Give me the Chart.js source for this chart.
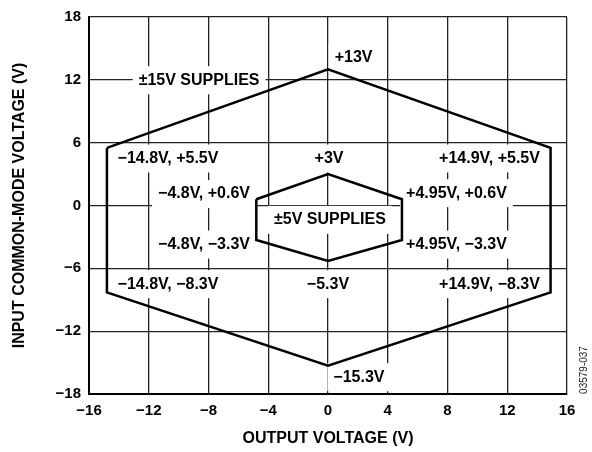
<!DOCTYPE html>
<html>
<head>
<meta charset="utf-8">
<script src="https://cdn.jsdelivr.net/npm/chart.js@4/dist/chart.umd.min.js"></script>
<style>
  html, body { margin: 0; padding: 0; background: #fff; }
  #wrap { width: 592px; height: 452px; }
</style>
</head>
<body>
<div id="wrap"><canvas id="chart"></canvas></div>
<script>
// ±15V supplies boundary (output V, common-mode V)
const wideX = [-14.8, 0, 14.9, 14.9, 0, -14.8, -14.8];
const wideY = [5.5, 13, 5.5, -8.3, -15.3, -8.3, 5.5];

// ±5V supplies boundary
const narrowX = [-4.8, 0, 4.95, 4.95, 0, -4.8, -4.8];
const narrowY = [0.6, 3, 0.6, -3.3, -5.3, -3.3, 0.6];

const xTicks = [-16, -12, -8, -4, 0, 4, 8, 12, 16];
const yTicks = [-18, -12, -6, 0, 6, 12, 18];

// callout texts and where they sit (data units)
const noteText = ["+13V", "±15V SUPPLIES", "−14.8V, +5.5V", "−4.8V, +0.6V", "+3V",
  "+14.9V, +5.5V", "+4.95V, +0.6V", "±5V SUPPLIES", "−4.8V, −3.3V", "+4.95V, −3.3V",
  "−14.8V, −8.3V", "−5.3V", "+14.9V, −8.3V", "−15.3V"];
const noteX = [1.71, -8.63, -10.71, -8.30, 0.07, 10.81, 8.60, 0.13, -8.30, 8.60, -10.71, 0, 10.81, 2.07];
const noteY = [14.13, 11.96, 4.49, 1.09, 4.49, 4.49, 1.18, -1.37, -3.73, -3.73, -7.51, -7.51, -7.51, -16.40];

const FONT = "'Liberation Sans', Arial, Helvetica, sans-serif";

function pts(xs, ys) {
    return xs.map((x, i) => ({ x: x, y: ys[i] }));
}
function minus(v) {
    return String(v).replace("-", "\u2212");
}

const notesPlugin = {
    id: "notes",
    beforeDatasetsDraw(chart) {
        const ctx = chart.ctx;
        const xs = chart.scales.x, ys = chart.scales.y;
        ctx.save();
        ctx.font = "bold 16px " + FONT;
        ctx.textAlign = "center";
        ctx.textBaseline = "middle";
        noteText.forEach((t, i) => {
            const px = xs.getPixelForValue(noteX[i]);
            const py = ys.getPixelForValue(noteY[i]);
            const w = ctx.measureText(t).width + 12;
            const h = 28;
            ctx.fillStyle = "#fff";
            ctx.fillRect(px - w / 2, py - h / 2, w, h);
            ctx.fillStyle = "#000";
            ctx.fillText(t, px, py);
        });
        ctx.restore();
    },
    afterDraw(chart) {
        const ctx = chart.ctx;
        ctx.save();
        ctx.translate(584, 370);
        ctx.rotate(-Math.PI / 2);
        ctx.font = "10px " + FONT;
        ctx.fillStyle = "#222";
        ctx.textAlign = "center";
        ctx.textBaseline = "middle";
        ctx.fillText("03579-037", 0, 0);
        ctx.restore();
    }
};

const lineStyle = {
    showLine: true,
    borderColor: "#000",
    borderWidth: 2.5,
    pointRadius: 0,
    fill: false,
    tension: 0
};

new Chart(document.getElementById("chart"), {
    type: "scatter",
    data: {
        datasets: [
            Object.assign({ label: "±15V", data: pts(wideX, wideY) }, lineStyle),
            Object.assign({ label: "±5V", data: pts(narrowX, narrowY) }, lineStyle)
        ]
    },
    options: {
        responsive: true,
        maintainAspectRatio: false,
        animation: false,
        layout: {
            padding: { left: 0, right: 25, top: 13, bottom: 0 }
        },
        plugins: {
            legend: { display: false },
            tooltip: { enabled: false }
        },
        scales: {
            x: {
                type: "linear",
                min: -16,
                max: 16,
                afterBuildTicks: s => { s.ticks = xTicks.map(v => ({ value: v })); },
                afterFit: s => { s.height = 58; },
                ticks: {
                    color: "#000",
                    padding: 8,
                    maxRotation: 0,
                    font: { family: FONT, size: 15, weight: "bold" },
                    callback: v => minus(v)
                },
                grid: { color: "#222", lineWidth: 1.3, drawTicks: false },
                border: { color: "#000", width: 2 },
                title: {
                    display: true,
                    text: "OUTPUT VOLTAGE (V)",
                    color: "#000",
                    padding: { top: 0, bottom: 4 },
                    font: { family: FONT, size: 16, weight: "bold" }
                }
            },
            y: {
                type: "linear",
                min: -18,
                max: 18,
                afterBuildTicks: s => { s.ticks = yTicks.map(v => ({ value: v })); },
                afterFit: s => { s.width = 89; },
                ticks: {
                    color: "#000",
                    padding: 8,
                    font: { family: FONT, size: 15, weight: "bold" },
                    callback: v => minus(v)
                },
                grid: { color: "#222", lineWidth: 1.3, drawTicks: false },
                border: { color: "#000", width: 2 },
                title: {
                    display: true,
                    text: "INPUT COMMON-MODE VOLTAGE (V)",
                    color: "#000",
                    padding: { top: 10, bottom: 0 },
                    font: { family: FONT, size: 16, weight: "bold" }
                }
            }
        }
    },
    plugins: [notesPlugin]
});
</script>
</body>
</html>
